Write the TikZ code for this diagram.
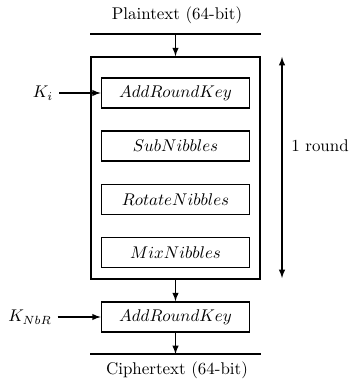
\documentclass[tikz,border=0pt]{standalone}
\usetikzlibrary{positioning}
\newlength{\basisround}
\setlength{\basisround}{0.2074cm}
\tikzset{
    stepbox/.style={draw, line width=1pt, minimum width=14.8\basisround, minimum height=3.0\basisround, inner sep=0pt},
    flow/.style={-latex, line width=0.7pt},
}

\begin{document}
\begin{tikzpicture}
    \useasboundingbox (0,0) rectangle (35.8\basisround,-37.9\basisround);

    % input and output
    \draw (17.7\basisround,-1.5\basisround) node (plaintext) {Plaintext (64-bit)};
    \coordinate (plain-left) at (9.0\basisround,-3.4\basisround);
    \coordinate (plain-right) at (26.1\basisround,-3.4\basisround);
    \coordinate (plain-mid) at (17.55\basisround,-3.4\basisround);
    \draw (17.7\basisround,-37.0\basisround) node (ciphertext) {Ciphertext (64-bit)};
    \coordinate (cipher-left) at (9.0\basisround,-35.4\basisround);
    \coordinate (cipher-right) at (26.1\basisround,-35.4\basisround);
    \coordinate (cipher-mid) at (17.55\basisround,-35.4\basisround);

    % the round
    \draw (17.55\basisround,-16.8\basisround) 
		node[draw, line width=1pt, minimum width=16.9\basisround, minimum height=22.2\basisround] 
			(round) {};

    \draw (17.55\basisround,-9.3\basisround) node[stepbox] (add-round-key) {$AddRoundKey$};
    \draw (17.55\basisround,-14.6\basisround) node[stepbox] (sub-nibbles) {$SubNibbles$};
    \draw (17.55\basisround,-19.95\basisround) node[stepbox] (rotate-nibbles) {$RotateNibbles$};
    \draw (17.55\basisround,-25.25\basisround) node[stepbox] (mix-nibbles) {$MixNibbles$};

    \draw (17.55\basisround,-31.7\basisround) node[stepbox] (final-add-round-key) {$AddRoundKey$};

    % keys
    \draw (4.3\basisround,-9.3\basisround) node (key-i) {$K_i$};
    \draw (3.0\basisround,-31.7\basisround) node (key-nbr) {$K_{NbR}$};

    % round span
    \coordinate (span-top) at (28.2\basisround,-5.7\basisround);
    \coordinate (span-bottom) at (28.2\basisround,-27.8\basisround);
    \draw (32.0\basisround,-14.6\basisround) node (round-label) {1 round};

	\draw[line width=1pt] (plain-left) -- (plain-right);
	\draw[line width=1pt] (cipher-left) -- (cipher-right);
	\draw[flow] (plain-mid) -- (round.north);
	\draw[flow] (round.south) -- (final-add-round-key);
	\draw[flow] (final-add-round-key) -- (cipher-mid);
	\draw[flow] (key-i.east) -- (key-i.east -| add-round-key.west);
	\draw[flow] (key-nbr.east) -- (key-nbr.east -| final-add-round-key.west);
	\draw[latex-latex, line width=0.7pt] (span-top) -- (span-bottom);
\end{tikzpicture}
\end{document}
